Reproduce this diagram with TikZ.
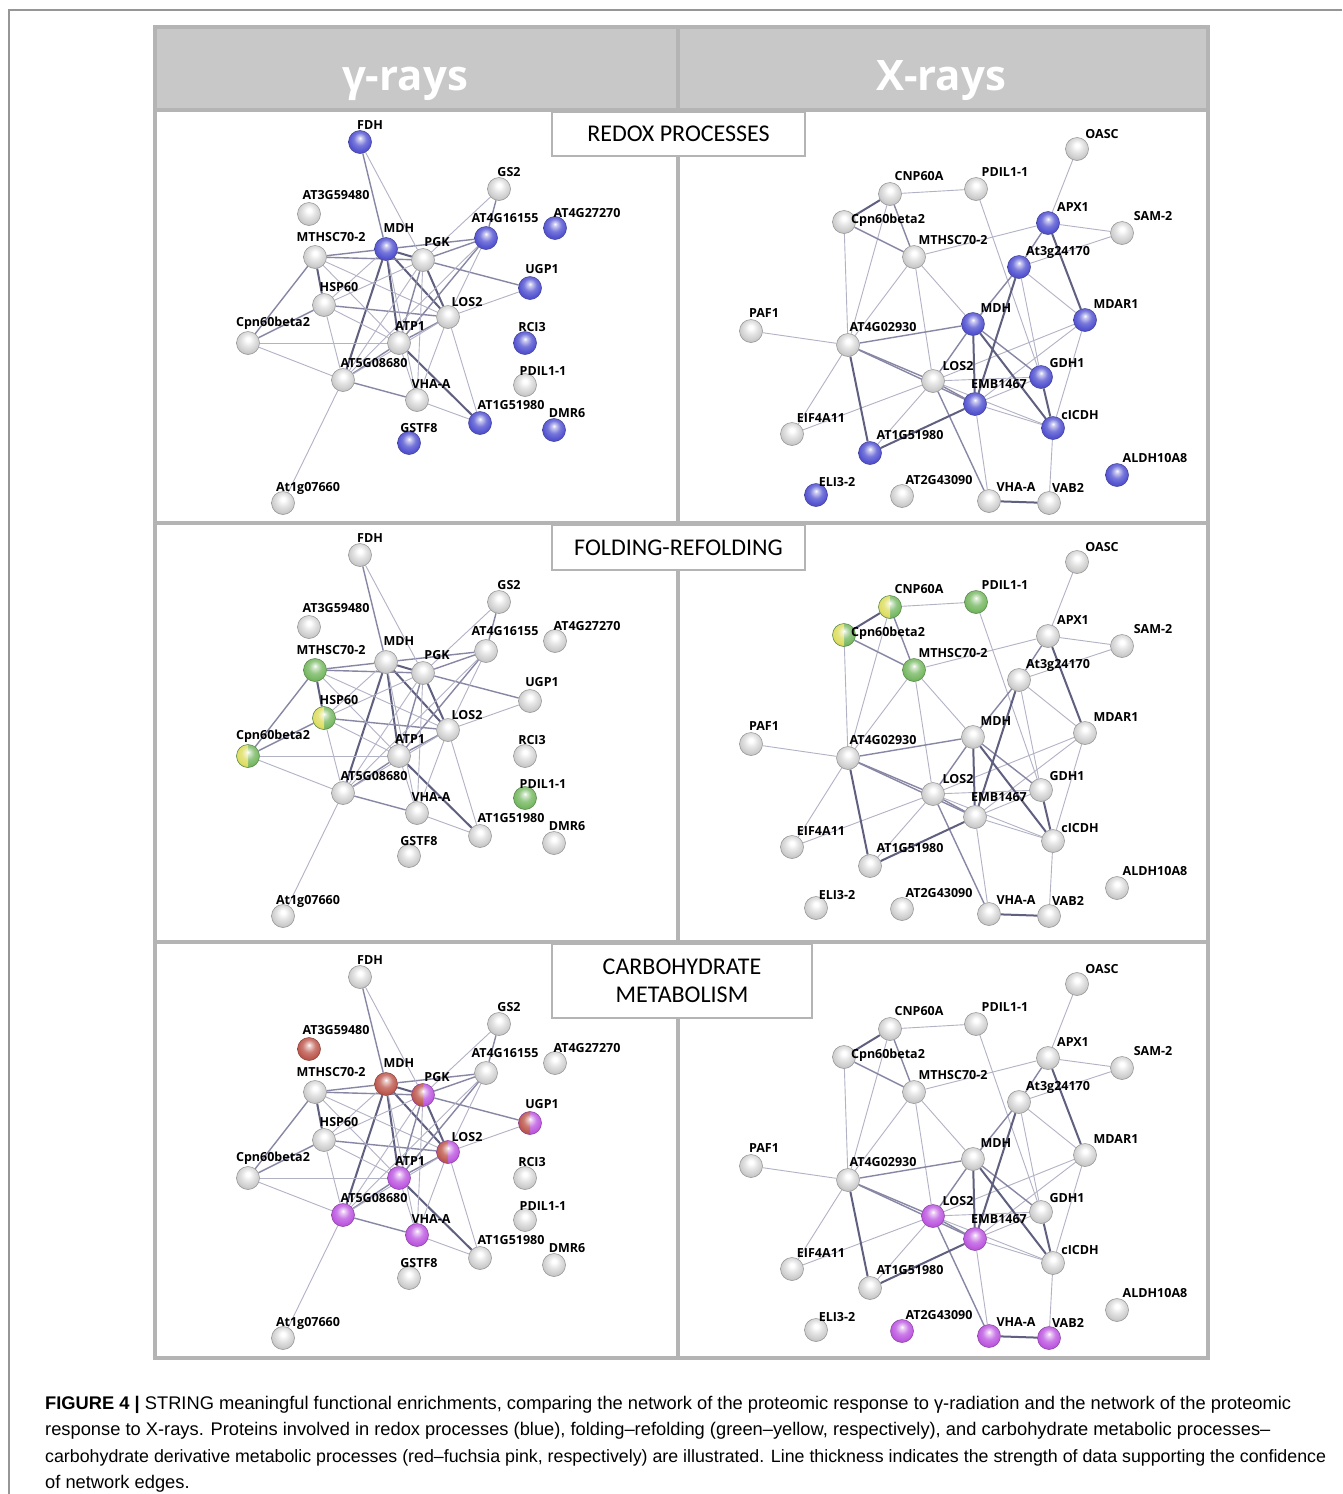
\documentclass[tikz,border=0pt]{standalone}
\usepackage{fontspec}
\setmainfont{Open Sans}
\newfontfamily\boxfont{Carlito}
\newfontfamily\capfont{Liberation Sans}
\pgfdeclarelayer{back}
\pgfdeclarelayer{edges}
\pgfsetlayers{back,edges,main}
\definecolor{cG}{RGB}{205,205,205}
\definecolor{cB}{RGB}{85,85,210}
\definecolor{cGr}{RGB}{120,185,100}
\definecolor{cY}{RGB}{222,222,100}
\definecolor{cR}{RGB}{190,90,80}
\definecolor{cP}{RGB}{190,90,225}
\definecolor{eT}{RGB}{178,178,198}
\definecolor{eM}{RGB}{135,135,165}
\definecolor{eK}{RGB}{95,95,128}
\definecolor{tabgray}{RGB}{180,180,180}
\definecolor{hdrgray}{RGB}{200,200,200}
\definecolor{framegray}{RGB}{150,150,150}
\pgfdeclareradialshading{sbG}{\pgfpoint{0bp}{9bp}}{color(0bp)=(white);color(4bp)=(white);color(14bp)=(cG!55!white);color(24bp)=(cG);color(50bp)=(cG!55!black)}
\pgfdeclareradialshading{sbB}{\pgfpoint{0bp}{9bp}}{color(0bp)=(white);color(4bp)=(cB!30!white);color(14bp)=(cB!80!white);color(24bp)=(cB);color(50bp)=(cB!55!black)}
\pgfdeclareradialshading{sbGr}{\pgfpoint{0bp}{9bp}}{color(0bp)=(white);color(4bp)=(cGr!30!white);color(14bp)=(cGr!80!white);color(24bp)=(cGr);color(50bp)=(cGr!55!black)}
\pgfdeclareradialshading{sbY}{\pgfpoint{0bp}{9bp}}{color(0bp)=(white);color(4bp)=(cY!30!white);color(14bp)=(cY!80!white);color(24bp)=(cY);color(50bp)=(cY!55!black)}
\pgfdeclareradialshading{sbR}{\pgfpoint{0bp}{9bp}}{color(0bp)=(white);color(4bp)=(cR!30!white);color(14bp)=(cR!80!white);color(24bp)=(cR);color(50bp)=(cR!55!black)}
\pgfdeclareradialshading{sbP}{\pgfpoint{0bp}{9bp}}{color(0bp)=(white);color(4bp)=(cP!30!white);color(14bp)=(cP!80!white);color(24bp)=(cP);color(50bp)=(cP!55!black)}
\tikzset{
  ball/.style={circle, minimum size=23pt, inner sep=0pt, line width=0.5pt, shade},
  gball/.style={ball, shading=sbG, draw=cG!70!black},
  ballB/.style={ball, shading=sbB, draw=cB!70!black},
  ballGr/.style={ball, shading=sbGr, draw=cGr!70!black},
  ballR/.style={ball, shading=sbR, draw=cR!70!black},
  ballP/.style={ball, shading=sbP, draw=cP!70!black},
  lefthalf/.style={path picture={\begin{scope}\clip (path picture bounding box.south west) rectangle (path picture bounding box.north);\shade[shading=#1] (path picture bounding box.center) circle (11.5pt);\end{scope}}},
  splitYGr/.style={ball, shading=sbGr, draw=cGr!70!black, lefthalf=sbY},
  splitRP/.style={ball, shading=sbP, draw=cP!70!black, lefthalf=sbR},
  lbl/.style={font=\fontsize{12.5}{12.5}\selectfont\bfseries, inner sep=0pt},
  e1/.style={draw=eT, line width=0.9pt},
  e2/.style={draw=eM, line width=1.4pt},
  e3/.style={draw=eK, line width=2pt},
  catbox/.style={draw=tabgray, line width=2pt, fill=white, inner sep=0pt, font=\boxfont\fontsize{24}{28}\selectfont, align=center},
  hdr/.style={text=white, font=\fontsize{42}{50}\selectfont\bfseries, anchor=base, inner sep=0pt},
  capline/.style={font=\capfont\fontsize{18.3}{21}\selectfont, anchor=base west, inner sep=0pt},
  % row colourings
  s1gFDH/.style=ballB, s1gMDH/.style=ballB, s1gAT4a/.style=ballB, s1gAT4b/.style=ballB,
  s1gUGP/.style=ballB, s1gRCI/.style=ballB, s1gAT1/.style=ballB, s1gDMR/.style=ballB, s1gGST/.style=ballB,
  s1xAPX/.style=ballB, s1xAt3/.style=ballB, s1xMDH/.style=ballB, s1xMDAR/.style=ballB, s1xGDH/.style=ballB,
  s1xEMB/.style=ballB, s1xcIC/.style=ballB, s1xAT1/.style=ballB, s1xELI/.style=ballB, s1xALD/.style=ballB,
  s2gMTH/.style=ballGr, s2gHSP/.style=splitYGr, s2gCPN/.style=splitYGr, s2gPDI/.style=ballGr,
  s2xCNP/.style=splitYGr, s2xPDI/.style=ballGr, s2xCPN/.style=splitYGr, s2xMTH/.style=ballGr,
  s3gAT3/.style=ballR, s3gMDH/.style=ballR, s3gPGK/.style=splitRP, s3gUGP/.style=splitRP, s3gLOS/.style=splitRP,
  s3gATP/.style=ballP, s3gAT5/.style=ballP, s3gVHA/.style=ballP,
  s3xLOS/.style=ballP, s3xEMB/.style=ballP, s3xAT2/.style=ballP, s3xVHA/.style=ballP, s3xVAB/.style=ballP
}
\newcommand\gnet[2]{%
\begin{scope}[shift={(0,#2)}]
\foreach \n/\x/\y/\dx/\dy/\t in {FDH/360/142/10/-17/FDH, GS2/499/189/10/-17/GS2, AT3/309/214/27/-19/AT3G59480,
  AT4a/486/238/19/-20/AT4G16155, AT4b/555/228/32/-15/AT4G27270, MTH/315/257/16/-20/MTHSC70-2,
  MDH/386/249/13/-21/MDH, PGK/423/260/14/-18/PGK, UGP/530/288/12/-19/UGP1, HSP/324/305/15/-18/HSP60,
  LOS/448/317/19/-15/LOS2, CPN/248/343/25/-20/Cpn60beta2, ATP/399/343/11/-17/ATP1, RCI/525/343/7/-16/RCI3,
  AT5/343/380/31/-17/AT5G08680, PDI/525/385/18/-14/PDIL1-1, VHA/417/400/14/-16/VHA-A,
  AT1/480/423/31/-18/AT1G51980, DMR/554/430/13/-17/DMR6, GST/409/443/10/-15/GSTF8, At1/283/503/25/-15/At1g07660}{
  \node[gball, s#1g\n/.try] (g#1\n) at (\x,\y) {};
  \node[lbl] (g#1\n-l) at ({\x+\dx},{\y+\dy}) {\t};
}
\end{scope}
\begin{pgfonlayer}{edges}
\foreach \a/\b/\w in {MDH/PGK/3, MDH/LOS/3, MDH/ATP/3, MDH/AT5/3, MTH/HSP/3, FDH/MDH/2, PGK/LOS/3, ATP/AT1/3,
  PGK/AT4a/2, MDH/MTH/2, MTH/CPN/2, MTH/PGK/2, HSP/CPN/2, HSP/LOS/2, HSP/AT5/1, CPN/AT5/1, PGK/UGP/2,
  AT4a/ATP/2, AT4a/MDH/2, LOS/ATP/2, LOS/AT1/1, AT5/VHA/2, AT5/ATP/2, GS2/AT4a/2, ATP/VHA/1, FDH/PGK/1,
  GS2/PGK/1, AT4a/LOS/1, UGP/LOS/1, MTH/LOS/1, MTH/ATP/1, HSP/MDH/1, HSP/PGK/1, HSP/ATP/1, CPN/ATP/1,
  PGK/ATP/2, PGK/AT5/1, PGK/VHA/1, LOS/VHA/1, VHA/AT1/1, AT5/At1/1, MDH/VHA/1, AT4a/AT5/1, LOS/AT5/1}{
  \draw[e\w] (g#1\a) -- (g#1\b);
}
\end{pgfonlayer}
}
\newcommand\xnet[2]{%
\begin{scope}[shift={(0,#2)}]
\foreach \n/\x/\y/\dx/\dy/\t in {OASC/1077/149/25/-15/OASC, CNP/890/194/29/-18/CNP60A, PDI/976/189/29/-17/PDIL1-1,
  CPN/844/222/44/-2/Cpn60beta2, APX/1048/223/25/-16/APX1, SAM/1122/233/31/-17/SAM-2,
  MTH/914/257/39/-17/MTHSC70-2, At3/1019/267/39/-15/At3g24170, MDH/973/324/23/-16/MDH,
  MDAR/1085/320/31/-16/MDAR1, PAF/751/331/13/-18/PAF1, AT4/848/345/35/-18/AT4G02930,
  LOS/933/381/25/-15/LOS2, GDH/1041/377/26/-14/GDH1, EMB/975/404/24/-20/EMB1467,
  cIC/1053/428/27/-13/cICDH, EIF/792/434/29/-16/EIF4A11, AT1/870/453/40/-18/AT1G51980,
  ALD/1117/475/38/-17/ALDH10A8, ELI/816/495/21/-13/ELI3-2, AT2/902/496/37/-16/AT2G43090,
  VHA/989/501/27/-14/VHA-A, VAB/1049/503/19/-15/VAB2}{
  \node[gball, s#1x\n/.try] (x#1\n) at (\x,\y) {};
  \node[lbl] (x#1\n-l) at ({\x+\dx},{\y+\dy}) {\t};
}
\end{scope}
\begin{pgfonlayer}{edges}
\foreach \a/\b/\w in {OASC/APX/1, CNP/PDI/1, CNP/AT4/1, CPN/AT4/1, APX/SAM/1, APX/MTH/1, SAM/At3/1, At3/MDAR/1,
  MTH/AT4/1, MTH/LOS/1, PDI/GDH/1, At3/GDH/1, MDAR/LOS/1, MDAR/EMB/1, MDAR/cIC/1, PAF/AT4/1, AT4/EIF/1,
  LOS/GDH/1, LOS/cIC/1, LOS/EIF/1, LOS/AT1/1, EMB/VHA/1, EMB/cIC/1, cIC/VAB/1, MTH/MDH/1, EMB/GDH/1,
  CNP/MTH/2, CPN/MTH/2, APX/At3/2, At3/MDH/2, MDH/AT4/2, MDH/LOS/2, MDH/GDH/2, AT4/LOS/2, AT4/EMB/2,
  LOS/EMB/2, LOS/VHA/2, CNP/CPN/3, APX/MDAR/3, At3/EMB/3, MDH/EMB/3, MDH/cIC/3, AT4/AT1/3, EMB/AT1/3,
  GDH/cIC/3, VHA/VAB/3}{
  \draw[e\w] (x#1\a) -- (x#1\b);
}
\end{pgfonlayer}
}
\begin{document}
\begin{tikzpicture}[x=1pt, y=-1pt]
\useasboundingbox (0,0) rectangle (1342,1494);
\begin{pgfonlayer}{back}
\fill[white] (0,0) rectangle (1342,1494);
\end{pgfonlayer}
% outer figure frame
\draw[framegray, line width=1.2pt] (9,1494) -- (9,10) -- (1342,10);
% table
\fill[hdrgray] (155,27) rectangle (1208,110);
\draw[tabgray, line width=4pt] (155,27) rectangle (1208,1358);
\draw[tabgray, line width=4pt] (155,110) -- (1208,110);
\draw[tabgray, line width=4pt] (155,523) -- (1208,523);
\draw[tabgray, line width=4pt] (155,942) -- (1208,942);
\draw[tabgray, line width=4pt] (678,27) -- (678,1358);
\node[hdr] (hg) at (405,90) {γ-rays};
\node[hdr] (hx) at (941,90) {X-rays};
\node[catbox, minimum width=253pt, minimum height=44pt] (redox) at (678.5,134) {REDOX PROCESSES};
\node[catbox, minimum width=253pt, minimum height=45pt] (fold) at (678.5,547.5) {FOLDING-REFOLDING};
\node[catbox, minimum width=260pt, minimum height=74pt] (carb) at (682,981) {CARBOHYDRATE\\METABOLISM};
% networks
\gnet{1}{0}
\xnet{1}{0}
\gnet{2}{413}
\xnet{2}{413}
\gnet{3}{835}
\xnet{3}{835}
% caption
\node[capline] (c1) at (45,1409) {{\bfseries FIGURE 4 |} STRING meaningful functional enrichments, comparing the network of the proteomic response to γ-radiation and the network of the proteomic};
\node[capline] (c2) at (45,1435.5) {response to X-rays. Proteins involved in redox processes (blue), folding–refolding (green–yellow, respectively), and carbohydrate metabolic processes–};
\node[capline, font=\capfont\fontsize{17.8}{21}\selectfont] (c3) at (45,1462) {carbohydrate derivative metabolic processes (red–fuchsia pink, respectively) are illustrated. Line thickness indicates the strength of data supporting the confidence};
\node[capline] (c4) at (45,1488.5) {of network edges.};
\end{tikzpicture}
\end{document}
